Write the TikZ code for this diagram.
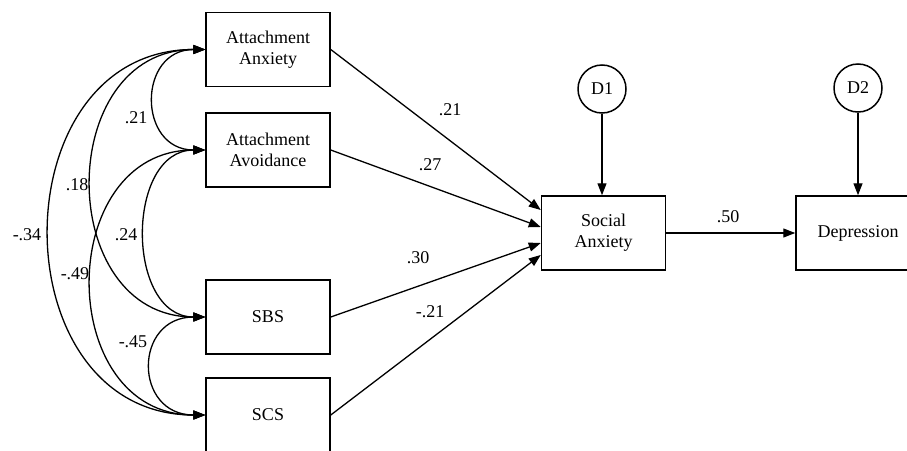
\documentclass[tikz,border=0pt]{standalone}
\usepackage{fontspec}
\setmainfont{Liberation Serif}
\usetikzlibrary{arrows.meta,positioning}

\begin{document}
\begin{tikzpicture}[x=1pt, y=-1pt,
  font=\fontsize{18}{21}\selectfont,
  var/.style={draw, line width=1.5pt, minimum width=124pt, minimum height=74pt, align=center, inner sep=0pt},
  err/.style={draw, circle, line width=1.5pt, minimum size=48pt, inner sep=0pt},
  eff/.style={line width=1.3pt, -{Triangle[length=12pt,width=9pt]}},
  cov/.style={line width=1.3pt, {Triangle[length=12pt,width=9pt]}-{Triangle[length=12pt,width=9pt]}}]
  \clip (0,0) rectangle (907,450);
  % Predictors
  \node[var] (aa) at (268,49.5) {Attachment\\Anxiety};
  \node[var] (av) at (268,150) {Attachment\\Avoidance};
  \node[var] (sbs) at (268,317) {SBS};
  \node[var] (scs) at (268,415) {SCS};
  % Outcomes
  \node[var] (sa) at (603.5,233) {Social\\Anxiety};
  \node[var] (dep) at (858,233) {Depression};
  % Disturbances
  \node[err] (d1) at (602,89) {D1};
  \node[err] (d2) at (858,88) {D2};
  \draw[eff] (d1) -- (sa.north -| d1);
  \draw[eff] (d2) -- (dep.north -| d2);
  % Paths
  \draw[eff] (aa.east) -- ([yshift=23pt]sa.west);
  \draw[eff] (av.east) -- ([yshift=6pt]sa.west);
  \draw[eff] (sbs.east) -- ([yshift=-10pt]sa.west);
  \draw[eff] (scs.east) -- ([yshift=-22pt]sa.west);
  \draw[eff] (sa) -- (dep);
  \node at (450,110) {.21};
  \node at (430,165) {.27};
  \node at (418,258) {.30};
  \node at (430,312) {-.21};
  \node at (728,217) {.50};
  % Covariances
  \draw[cov] (aa.west) .. controls +(-68,0) and +(-68,0) .. (av.west);
  \draw[cov] (av.west) .. controls +(-80,0) and +(-80,0) .. (sbs.west);
  \draw[cov] (sbs.west) .. controls +(-72,0) and +(-72,0) .. (scs.west);
  \draw[cov] (aa.west) .. controls +(-151,0) and +(-151,0) .. (sbs.west);
  \draw[cov] (av.west) .. controls +(-151,0) and +(-151,0) .. (scs.west);
  \draw[cov] (aa.west) .. controls +(-207,0) and +(-207,0) .. (scs.west);
  \node at (136,118) {.21};
  \node at (126,235) {.24};
  \node at (133,342) {-.45};
  \node at (77,185) {.18};
  \node at (75,274) {-.49};
  \node at (27,235) {-.34};
\end{tikzpicture}
\end{document}
